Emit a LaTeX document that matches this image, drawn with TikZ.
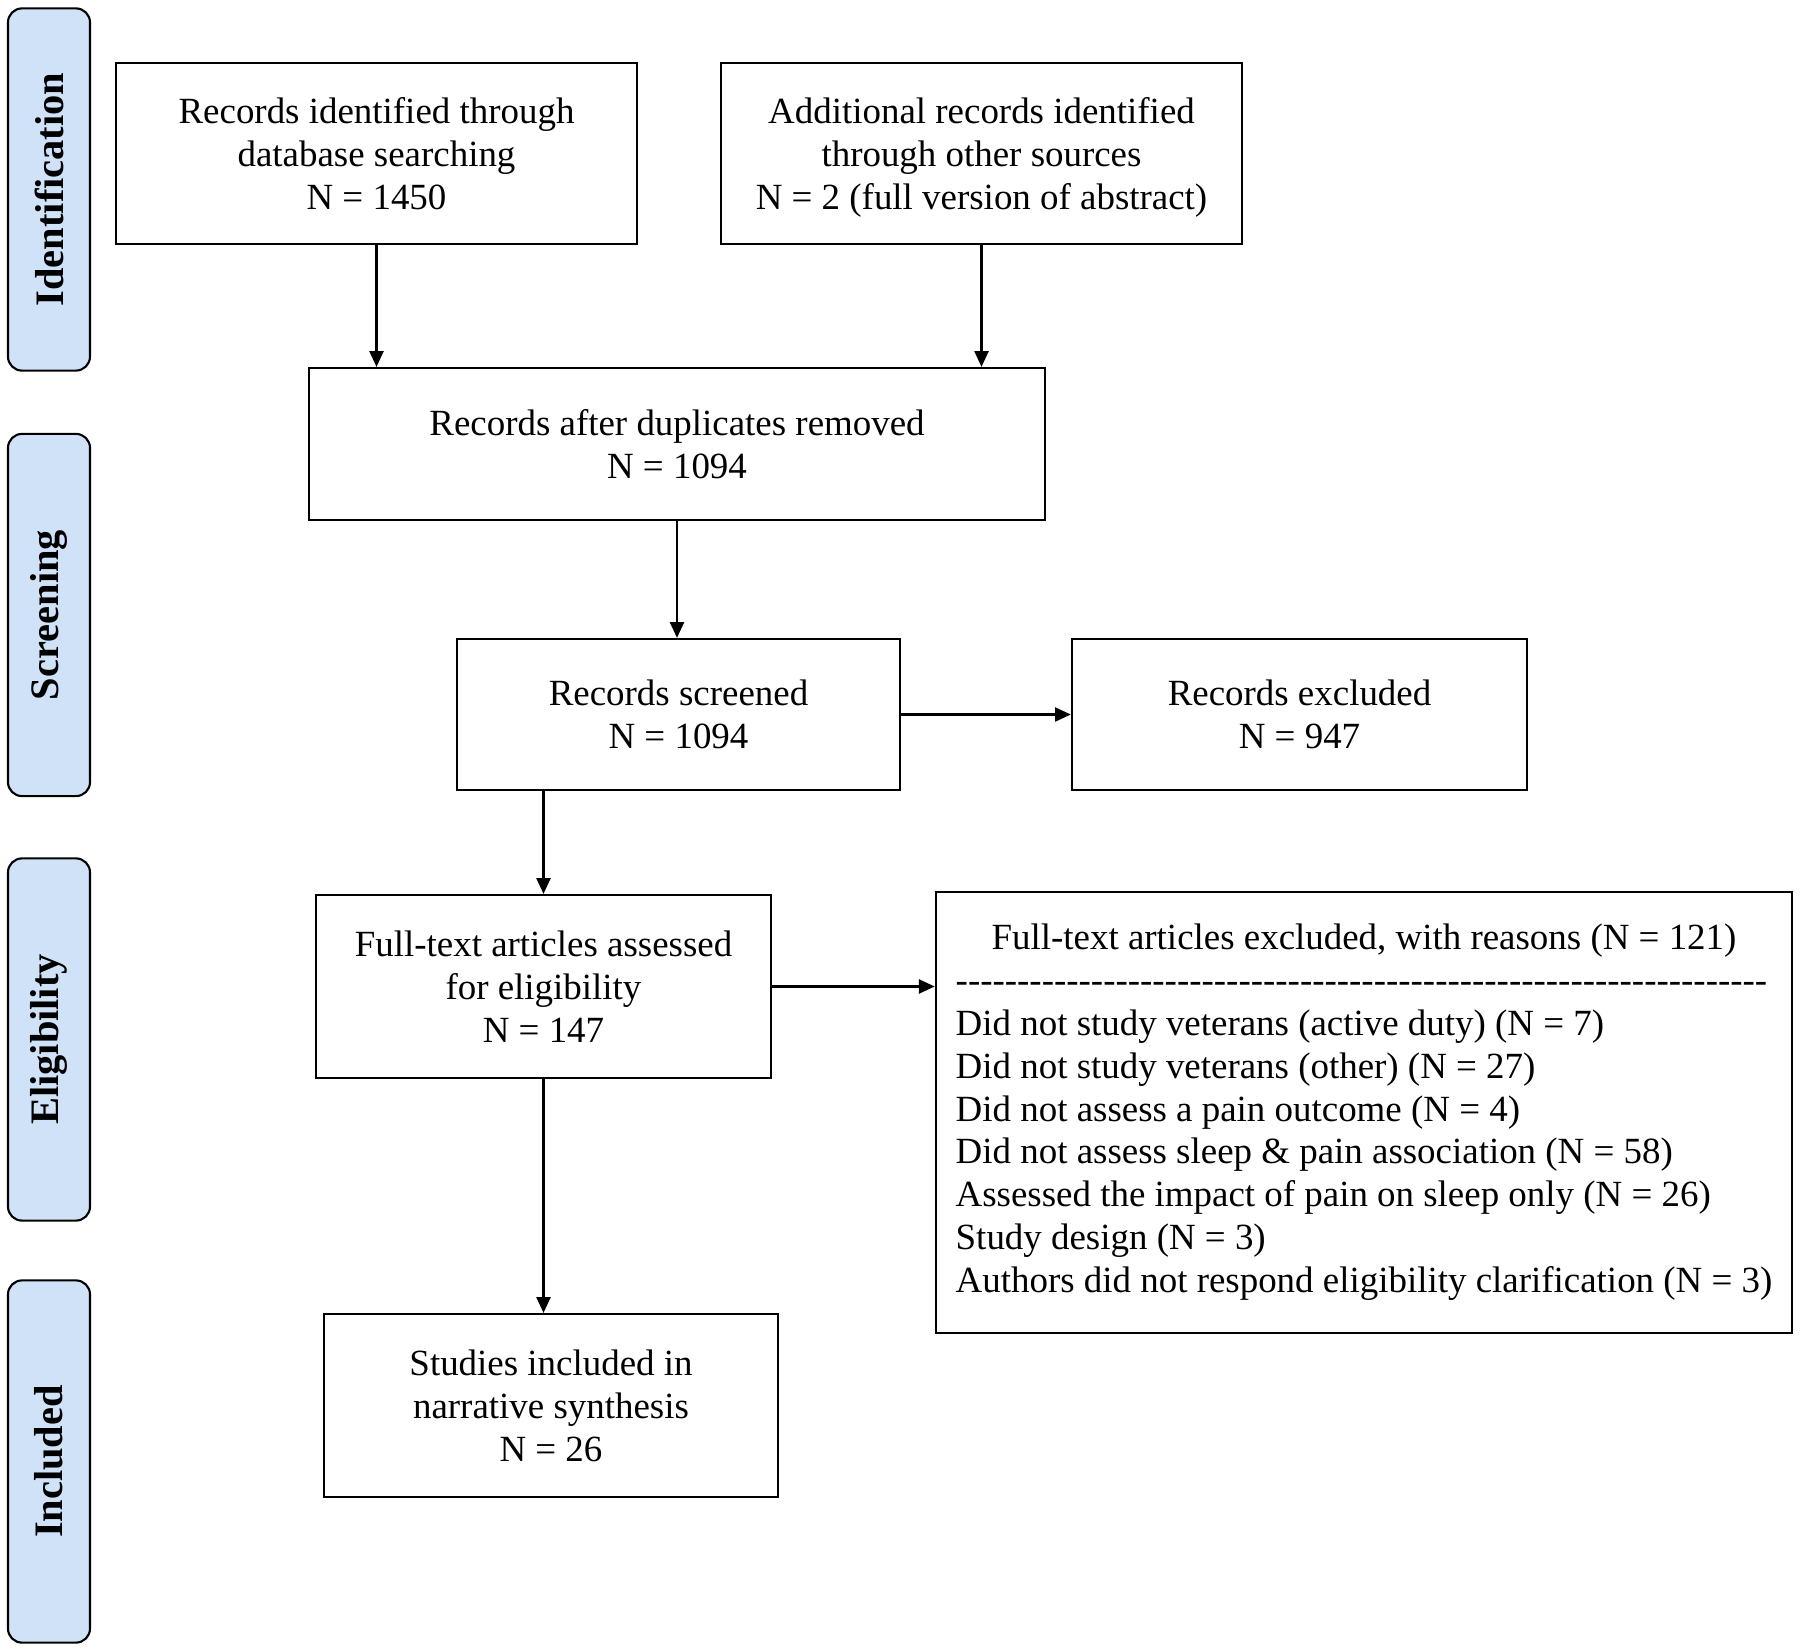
\documentclass[tikz,border=0pt]{standalone}
\usepackage{fontspec}
\setmainfont{Liberation Serif}
\usetikzlibrary{arrows.meta}
\definecolor{phaseblue}{RGB}{207,226,247}

\tikzset{
  box/.style={draw, line width=0.6pt, align=center, inner sep=0pt,
    font=\fontsize{10.5}{12.2}\selectfont},
  phase/.style={draw, line width=0.6pt, fill=phaseblue, rounded corners=4pt,
    rotate=90, minimum width=3.62cm, minimum height=0.82cm,
    font=\fontsize{11.5}{13}\selectfont\bfseries},
  arr/.style={-{Triangle[length=4.5pt,width=4pt]}, line width=0.6pt},
}

\newcommand{\hyphrow}{\foreach \k in {1,...,66}{-\kern0pt}}

\begin{document}
\begin{tikzpicture}[x=0.01cm, y=-0.01cm]
    \useasboundingbox (0,0) rectangle (1800,1652);

    % Phase bars
    \node[phase] (ident) at (49,189.5) {Identification};
    \node[phase] (screen) at (49,615) {Screening};
    \node[phase] (elig) at (49,1039.5) {Eligibility};
    \node[phase] (incl) at (49,1461.5) {Included};

    % Identification
    \node[box, minimum width=5.21cm, minimum height=1.81cm] (dbrec) at (376.5,153.5)
        {Records identified through\\database searching\\N = 1450};
    \node[box, minimum width=5.21cm, minimum height=1.81cm] (otherrec) at (981.5,153.5)
        {Additional records identified\\through other sources\\\raisebox{0pt}[\height][0pt]{N = 2 (full version of abstract)}};

    % Screening
    \node[box, minimum width=7.36cm, minimum height=1.52cm] (dedup) at (677,444)
        {Records after duplicates removed\\N = 1094};
    \node[box, minimum width=4.43cm, minimum height=1.51cm] (screened) at (678.5,714.5)
        {Records screened\\N = 1094};
    \node[box, minimum width=4.55cm, minimum height=1.51cm] (recexcl) at (1299.5,714.5)
        {Records excluded\\N = 947};

    % Eligibility
    \node[box, minimum width=4.55cm, minimum height=1.83cm] (fulltext) at (543.5,986.5)
        {Full-text articles assessed\\for eligibility\\N = 147};
    \node[box, minimum width=8.56cm, minimum height=4.41cm] (ftexcl) at (1364,1112.5)
        {\begin{tabular}{@{}l@{}}
         \multicolumn{1}{@{}c@{}}{Full-text articles excluded, with reasons (N = 121)}\\
         \hyphrow\\
         Did not study veterans (active duty) (N = 7)\\
         Did not study veterans (other) (N = 27)\\
         Did not assess a pain outcome (N = 4)\\
         Did not assess sleep \& pain association (N = 58)\\
         Assessed the impact of pain on sleep only (N = 26)\\
         Study design (N = 3)\\
         Authors did not respond eligibility clarification (N = 3)
         \end{tabular}};

    % Included
    \node[box, minimum width=4.54cm, minimum height=1.83cm] (synth) at (551,1405.5)
        {Studies included in\\narrative synthesis\\N = 26};

    % Arrows
    \draw[arr] (dbrec.south) -- (dbrec.south |- dedup.north);
    \draw[arr] (otherrec.south) -- (otherrec.south |- dedup.north);
    \draw[arr] (dedup.south) -- (dedup.south |- screened.north);
    \draw[arr] (screened.east) -- (recexcl.west);
    \draw[arr] (screened.south -| fulltext.north) -- (fulltext.north);
    \draw[arr] (fulltext.east) -- (fulltext.east -| ftexcl.west);
    \draw[arr] (fulltext.south) -- (fulltext.south |- synth.north);
\end{tikzpicture}
\end{document}
